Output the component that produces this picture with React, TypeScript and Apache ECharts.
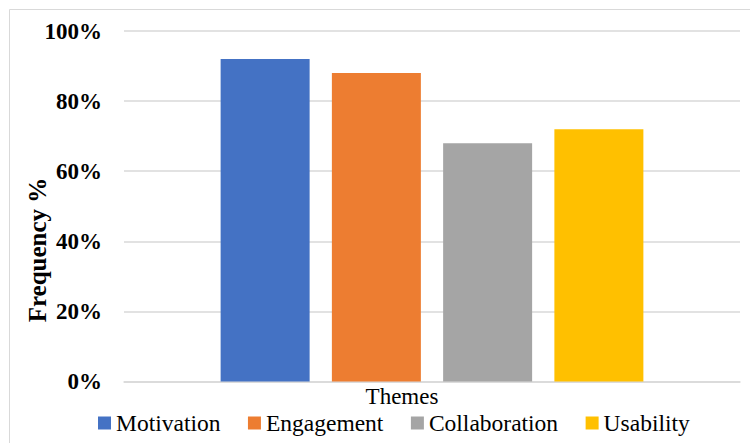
import React, { useEffect, useRef } from "react";
import * as echarts from "echarts";

const categories = ["Themes"];
const seriesNames = ["Motivation", "Engagement", "Collaboration", "Usability"];
const seriesValues = [[92], [88], [68], [72]];
const seriesColors = ["#4472C4", "#ED7D31", "#A5A5A5", "#FFC000"];
const yTicks = { min: 0, max: 100, interval: 20 };
const yAxisTitle = "Frequency %";

const FONT = "Liberation Serif";

export default function App() {
  const ref = useRef<HTMLDivElement>(null);
  useEffect(() => {
    if (!ref.current) return;
    const chart = echarts.init(ref.current, null, { renderer: "svg" });
    chart.setOption({
      animation: false,
      backgroundColor: "#ffffff",
      textStyle: { fontFamily: FONT },
      grid: { left: 124, right: 10, top: 31, bottom: 61.5 },
      legend: {
        data: seriesNames,
        left: 93,
        top: 406,
        itemWidth: 13,
        itemHeight: 13,
        itemGap: 27.5,
        icon: "rect",
        textStyle: { fontFamily: FONT, fontSize: 23.5, color: "#000" },
      },
      xAxis: {
        type: "category",
        data: categories,
        axisLine: { lineStyle: { color: "#d9d9d9", width: 1.5 } },
        axisTick: { show: false },
        axisLabel: {
          fontFamily: FONT,
          fontSize: 23,
          color: "#000",
          margin: 3,
          padding: [0, 60, 0, 0],
        },
      },
      yAxis: {
        type: "value",
        min: yTicks.min,
        max: yTicks.max,
        interval: yTicks.interval,
        axisLine: { show: false },
        axisTick: { show: false },
        splitLine: { lineStyle: { color: "#d9d9d9", width: 1.5 } },
        axisLabel: {
          formatter: "{value}%",
          fontFamily: FONT,
          fontSize: 23,
          fontWeight: "bold",
          color: "#000",
          margin: 22,
        },
      },
      graphic: [
        {
          type: "rect",
          shape: { x: 9.5, y: 9.5, width: 760, height: 460 },
          style: { fill: "none", stroke: "#d9d9d9", lineWidth: 1 },
          silent: true,
        },
        {
          type: "text",
          x: 37.5,
          y: 250,
          rotation: Math.PI / 2,
          style: {
            text: yAxisTitle,
            fontFamily: FONT,
            fontSize: 25,
            fontWeight: "bold",
            fill: "#000",
            align: "center",
            verticalAlign: "middle",
          },
        },
      ],
      series: seriesNames.map((name, i) => ({
        name,
        type: "bar",
        data: seriesValues[i],
        barWidth: 89,
        barGap: "25%",
        itemStyle: { color: seriesColors[i] },
      })),
    });
    return () => chart.dispose();
  }, []);
  return (
    <div
      ref={ref}
      style={{ position: "fixed", left: 0, top: 0, width: 750, height: 443 }}
    />
  );
}
